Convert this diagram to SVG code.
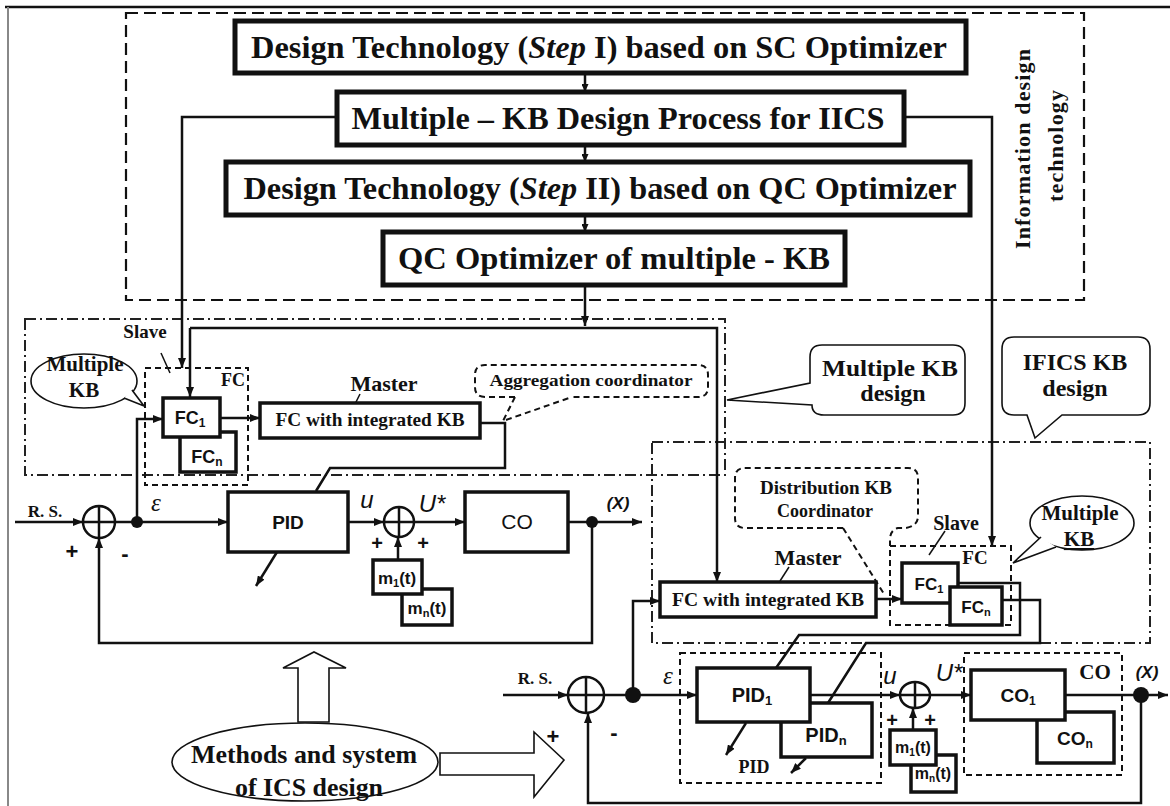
<svg xmlns="http://www.w3.org/2000/svg" width="1170" height="806" viewBox="0 0 1170 806">
<defs>
<marker id="ah" viewBox="0 0 10 8" refX="10" refY="4" markerWidth="10" markerHeight="8" markerUnits="userSpaceOnUse" orient="auto"><path d="M0,0 L10,4 L0,8 Z" fill="#111"/></marker>
<marker id="as" viewBox="0 0 8 7" refX="8" refY="3.5" markerWidth="8" markerHeight="7" markerUnits="userSpaceOnUse" orient="auto"><path d="M0,0 L8,3.5 L0,7 Z" fill="#111"/></marker>
<style>
.ln{fill:none;stroke:#111;stroke-width:2.5}
.th{fill:none;stroke:#111;stroke-width:1.5}
.box{fill:#fff;stroke:#111;stroke-width:3.5}
.tbox{fill:#fff;stroke:#111;stroke-width:5}
.dash{fill:none;stroke:#111;stroke-width:2;stroke-dasharray:6 4}
.dd{fill:none;stroke:#222;stroke-width:2;stroke-dasharray:11 4 2 4}
.big{fill:none;stroke:#111;stroke-width:2.2;stroke-dasharray:12 6}
.call{fill:#fff;stroke:#111;stroke-width:1.6}
.tx{font-family:"Liberation Serif","Times New Roman",serif;font-weight:bold;fill:#111;text-anchor:middle}
.sa{font-family:"Liberation Sans",Arial,sans-serif;font-weight:bold;fill:#111;text-anchor:middle}
.sr{font-family:"Liberation Sans",Arial,sans-serif;fill:#111;text-anchor:middle}
.si{font-family:"Liberation Sans",Arial,sans-serif;font-style:italic;fill:#111;text-anchor:middle}
.ep{font-family:"Liberation Serif","Times New Roman",serif;font-style:italic;fill:#111;text-anchor:middle}
</style>
</defs>
<rect x="0" y="0" width="1170" height="806" fill="#fff"/>
<line x1="5" y1="7" x2="1170" y2="7" stroke="#111" stroke-width="2.5"/>
<line x1="8" y1="7" x2="8" y2="806" stroke="#888" stroke-width="2"/>

<g id="info-design-technology">
<rect x="126" y="13" width="958" height="287" class="big"/>
<text class="tx" font-size="22" transform="translate(1030,149) rotate(-90)" textLength="200" lengthAdjust="spacing">Information design</text>
<text class="tx" font-size="22" transform="translate(1063,146) rotate(-90)" textLength="112" lengthAdjust="spacing">technology</text>
</g>
<g id="multiple-kb-region"><rect x="25" y="319" width="700" height="156" class="dd"/></g>
<g id="ifics-kb-region"><rect x="652" y="442" width="498" height="201" class="dd"/></g>

<g id="connectors">
<path class="ln" d="M585,73 V92" marker-end="url(#as)"/>
<path class="ln" d="M585,145 V162" marker-end="url(#as)"/>
<path class="ln" d="M585,215 V232" marker-end="url(#as)"/>
<path class="ln" d="M585,285 V326" marker-end="url(#ah)"/>
<path class="ln" d="M337,117 H182 V368" marker-end="url(#ah)"/>
<path class="ln" d="M904,117 H992 V546" marker-end="url(#ah)"/>
<path class="ln" d="M190,328 H717 V582" marker-end="url(#ah)"/>
<path class="ln" d="M190,328 V397" marker-end="url(#ah)"/>
<path class="ln" d="M15,522 H83" marker-end="url(#ah)"/>
<path class="ln" d="M115,522 H228" marker-end="url(#ah)"/>
<path class="ln" d="M137,522 V419 H163" marker-end="url(#ah)"/>
<path class="ln" d="M220,418 H260" marker-end="url(#ah)"/>
<path class="ln" d="M480,423 H505 V468 H330 L316,491"/>
<path class="ln" d="M348,522 H384" marker-end="url(#ah)"/>
<path class="ln" d="M414,522 H465" marker-end="url(#ah)"/>
<path class="ln" d="M568,522 H642" marker-end="url(#ah)"/>
<path class="ln" d="M592,522 V643 H99 V538" marker-end="url(#ah)"/>
<path class="ln" d="M398,560 V537" marker-end="url(#ah)"/>
<path class="ln" d="M277,552 L256,586" marker-end="url(#ah)"/>
<path class="ln" d="M503,695 H568" marker-end="url(#ah)"/>
<path class="ln" d="M604,695 H697" marker-end="url(#ah)"/>
<path class="ln" d="M633,695 V601 H660" marker-end="url(#ah)"/>
<path class="ln" d="M876,599 H902" marker-end="url(#ah)"/>
<path class="ln" d="M958,583 H1020 V635 H799 L776,668"/>
<path class="ln" d="M1002,600 H1040 V643 H866 L828,703"/>
<path class="ln" d="M810,695 H900" marker-end="url(#ah)"/>
<path class="ln" d="M930,695 H971" marker-end="url(#ah)"/>
<path class="ln" d="M1065,695 H1168" marker-end="url(#ah)"/>
<path class="ln" d="M1141,695 V803 H588 V713" marker-end="url(#ah)"/>
<path class="ln" d="M913,730 V708" marker-end="url(#ah)"/>
<path class="ln" d="M746,723 L726,755" marker-end="url(#ah)"/>
<path class="ln" d="M806,758 L791,773" marker-end="url(#ah)"/>
<path class="th" d="M161,353 L170,373"/>
<path class="th" d="M360,394 L353,408"/>
<path class="th" d="M945,531 L929,555"/>
<path class="th" d="M789,567 L780,581"/>
</g>

<g id="step1"><rect x="235" y="21" width="731" height="52" class="tbox"/>
<text class="tx" font-size="32" x="599" y="58" textLength="696" lengthAdjust="spacingAndGlyphs">Design Technology (<tspan font-style="italic">Step</tspan> I) based on SC Optimizer</text></g>
<g id="multikb-process"><rect x="337" y="92" width="567" height="53" class="tbox"/>
<text class="tx" font-size="32" x="618" y="129" textLength="533" lengthAdjust="spacingAndGlyphs">Multiple – KB Design Process for IICS</text></g>
<g id="step2"><rect x="226" y="162" width="744" height="53" class="tbox"/>
<text class="tx" font-size="32" x="600" y="199" textLength="713" lengthAdjust="spacingAndGlyphs">Design Technology (<tspan font-style="italic">Step</tspan> II) based on QC Optimizer</text></g>
<g id="qc-optimizer"><rect x="383" y="232" width="462" height="53" class="tbox"/>
<text class="tx" font-size="32" x="614" y="269" textLength="432" lengthAdjust="spacingAndGlyphs">QC Optimizer of multiple - KB</text></g>

<g id="slave-left"><text class="tx" font-size="19" x="145" y="338">Slave</text></g>
<g id="multiple-kb-left">
<ellipse cx="84" cy="381" rx="53" ry="27" class="call"/>
<path class="call" d="M124,398 L144,406 L132,390"/>
<text class="tx" font-size="21" x="85" y="371">Multiple</text>
<text class="tx" font-size="21" x="84" y="397">KB</text>
</g>
<g id="fc-group-left">
<rect x="145" y="368" width="103" height="117" class="dash"/>
<text class="tx" font-size="18" x="233" y="386">FC</text>
<rect x="180" y="432" width="56" height="40" class="box"/>
<text class="sa" font-size="18" x="207" y="463">FC<tspan font-size="12" dy="3">n</tspan></text>
<rect x="163" y="398" width="57" height="39" class="box"/>
<text class="sa" font-size="18" x="190" y="424">FC<tspan font-size="12" dy="3">1</tspan></text>
</g>
<g id="master-left">
<text class="tx" font-size="22" x="384" y="391">Master</text>
<rect x="260" y="403" width="220" height="35" class="box"/>
<text class="tx" font-size="19" x="370" y="426" textLength="189" lengthAdjust="spacingAndGlyphs">FC with integrated KB</text>
</g>
<g id="aggregation-coordinator">
<path class="dash" d="M515,397 H485 Q475,397 475,387 V375 Q475,365 485,365 H698 Q708,365 708,375 V387 Q708,397 698,397 H572 M515,397 L503,421 L572,397"/>
<text class="tx" font-size="16" x="591" y="386" textLength="203" lengthAdjust="spacingAndGlyphs">Aggregation coordinator</text>
</g>
<g id="multiple-kb-design">
<path class="call" d="M810,383 V357 Q810,345 822,345 H953 Q965,345 965,357 V403 Q965,415 953,415 H824 Q812,415 812,405 L727,400 Z"/>
<text class="tx" font-size="24" x="890" y="376" textLength="136" lengthAdjust="spacingAndGlyphs">Multiple KB</text>
<text class="tx" font-size="24" x="893" y="401">design</text>
</g>
<g id="ifics-kb-design">
<path class="call" d="M1014,337 H1138 Q1150,337 1150,349 V403 Q1150,415 1138,415 H1062 L1035,438 L1027,415 H1014 Q1002,415 1002,403 V349 Q1002,337 1014,337 Z"/>
<text class="tx" font-size="24" x="1075" y="370">IFICS KB</text>
<text class="tx" font-size="24" x="1075" y="396">design</text>
</g>

<g id="rs-left"><text class="tx" font-size="17" x="45" y="517">R. S.</text></g>
<g id="sum-left">
<circle cx="99" cy="522" r="16" fill="#fff" stroke="#111" stroke-width="2.5"/>
<path class="ln" d="M83,522 H115 M99,506 V538"/>
<text class="sa" font-size="22" x="72" y="559">+</text>
<text class="sa" font-size="22" x="125" y="561">-</text>
</g>
<g id="eps-left"><circle cx="137" cy="522" r="6" fill="#111"/><text class="ep" font-size="25" x="156" y="511">ε</text></g>
<g id="pid-left"><rect x="228" y="492" width="120" height="60" class="box"/><text class="sa" font-size="19" x="288" y="529">PID</text></g>
<g id="u-left"><text class="si" font-size="24" x="367" y="508">u</text></g>
<g id="sum2-left">
<circle cx="399" cy="522" r="15" fill="#fff" stroke="#111" stroke-width="2.5"/>
<path class="ln" d="M384,522 H414 M399,507 V537"/>
<text class="sa" font-size="20" x="377" y="550">+</text>
<text class="sa" font-size="20" x="423" y="550">+</text>
<text class="si" font-size="24" x="432" y="512">U*</text>
</g>
<g id="m-left">
<rect x="402" y="589" width="50" height="36" class="box" stroke-width="3"/>
<text class="sa" font-size="17" x="427" y="614">m<tspan font-size="11" dy="3">n</tspan><tspan dy="-3">(t)</tspan></text>
<rect x="373" y="560" width="49" height="34" class="box" stroke-width="3"/>
<text class="sa" font-size="17" x="397" y="584">m<tspan font-size="11" dy="3">1</tspan><tspan dy="-3">(t)</tspan></text>
</g>
<g id="co-left"><rect x="465" y="492" width="103" height="60" class="box"/><text class="sr" font-size="21" x="517" y="529">CO</text></g>
<g id="x-left"><circle cx="592" cy="522" r="6" fill="#111"/><text class="si" font-size="17" font-weight="bold" x="618" y="509">(X)</text></g>

<g id="methods">
<polygon points="298,722 298,668 283,668 314,652 346,668 329,668 329,722" fill="#fff" stroke="#111" stroke-width="1.6"/>
<polygon points="440,753 534,753 534,732 564,760 534,797 534,775 440,775" fill="#fff" stroke="#111" stroke-width="1.6"/>
<ellipse cx="305" cy="762" rx="133" ry="39" class="call"/>
<text class="tx" font-size="25" x="304" y="763" textLength="226" lengthAdjust="spacingAndGlyphs">Methods and system</text>
<text class="tx" font-size="25" x="309" y="796" textLength="148" lengthAdjust="spacingAndGlyphs">of ICS design</text>
</g>

<g id="distribution-coordinator">
<path class="dash" d="M843,528 H745 Q735,528 735,518 V478 Q735,468 745,468 H908 Q918,468 918,478 V516 Q918,526 906,528 H898 Q890,530 890,540 V546 M843,528 L884,594"/>
<text class="tx" font-size="18" x="826" y="494" textLength="132" lengthAdjust="spacingAndGlyphs">Distribution KB</text>
<text class="tx" font-size="18" x="825" y="517">Coordinator</text>
</g>
<g id="master-right">
<text class="tx" font-size="22" x="808" y="565">Master</text>
<rect x="660" y="582" width="216" height="35" class="box"/>
<text class="tx" font-size="19" x="768" y="606" textLength="192" lengthAdjust="spacingAndGlyphs">FC with integrated KB</text>
</g>
<g id="slave-right"><text class="tx" font-size="20" x="956" y="530">Slave</text></g>
<g id="fc-group-right">
<rect x="890" y="546" width="121" height="79" class="dash"/>
<text class="tx" font-size="19" x="975" y="564">FC</text>
<rect x="902" y="563" width="56" height="40" class="box" fill="none"/>
<text class="sa" font-size="17" x="929" y="590">FC<tspan font-size="11" dy="3">1</tspan></text>
<rect x="950" y="587" width="52" height="38" class="box" fill="none"/>
<text class="sa" font-size="17" x="976" y="613">FC<tspan font-size="11" dy="3">n</tspan></text>
</g>
<g id="multiple-kb-right">
<ellipse cx="1082" cy="523" rx="52" ry="27" class="call"/>
<path class="call" d="M1041,537 L1013,563 L1056,547"/>
<text class="tx" font-size="21" x="1080" y="520">Multiple</text>
<text class="tx" font-size="21" x="1079" y="546" text-decoration="underline">KB</text>
</g>
<g id="rs-right"><text class="tx" font-size="17" x="535" y="684">R. S.</text></g>
<g id="sum-right">
<circle cx="586" cy="695" r="18" fill="#fff" stroke="#111" stroke-width="2.5"/>
<path class="ln" d="M568,695 H604 M586,677 V713"/>
<text class="sa" font-size="22" x="553" y="744">+</text>
<text class="sa" font-size="22" x="614" y="740">-</text>
</g>
<g id="eps-right"><circle cx="633" cy="695" r="8" fill="#111"/><text class="ep" font-size="25" x="668" y="684">ε</text></g>
<g id="pid-group-right">
<rect x="680" y="653" width="201" height="130" class="dash"/>
<rect x="781" y="703" width="91" height="54" class="box"/>
<text class="sa" font-size="20" x="826" y="742">PID<tspan font-size="13" dy="3">n</tspan></text>
<rect x="697" y="668" width="113" height="54" class="box"/>
<text class="sa" font-size="20" x="752" y="702">PID<tspan font-size="13" dy="3">1</tspan></text>
<text class="tx" font-size="18" x="754" y="773">PID</text>
</g>
<g id="sum2-right">
<ellipse cx="915" cy="695" rx="15" ry="13" fill="#fff" stroke="#111" stroke-width="2.5"/>
<path class="ln" d="M900,695 H930 M915,682 V708"/>
<text class="si" font-size="24" x="890" y="684">u</text>
<text class="si" font-size="24" x="949" y="681">U*</text>
<text class="sa" font-size="20" x="892" y="727">+</text>
<text class="sa" font-size="20" x="930" y="727">+</text>
</g>
<g id="m-right">
<rect x="911" y="755" width="45" height="37" class="box" stroke-width="3"/>
<text class="sa" font-size="16" x="933" y="779">m<tspan font-size="10" dy="3">n</tspan><tspan dy="-3">(t)</tspan></text>
<rect x="890" y="730" width="46" height="35" class="box" stroke-width="3"/>
<text class="sa" font-size="16" x="913" y="753">m<tspan font-size="10" dy="3">1</tspan><tspan dy="-3">(t)</tspan></text>
</g>
<g id="co-group-right">
<rect x="964" y="653" width="158" height="122" class="dash"/>
<text class="tx" font-size="21" x="1095" y="679">CO</text>
<rect x="1037" y="712" width="77" height="51" class="box"/>
<text class="sa" font-size="19" x="1075" y="745">CO<tspan font-size="12" dy="3">n</tspan></text>
<rect x="971" y="670" width="94" height="50" class="box"/>
<text class="sa" font-size="19" x="1018" y="702">CO<tspan font-size="12" dy="3">1</tspan></text>
</g>
<g id="x-right"><circle cx="1141" cy="695" r="8" fill="#111"/><text class="si" font-size="17" font-weight="bold" x="1147" y="678">(X)</text></g>
</svg>
